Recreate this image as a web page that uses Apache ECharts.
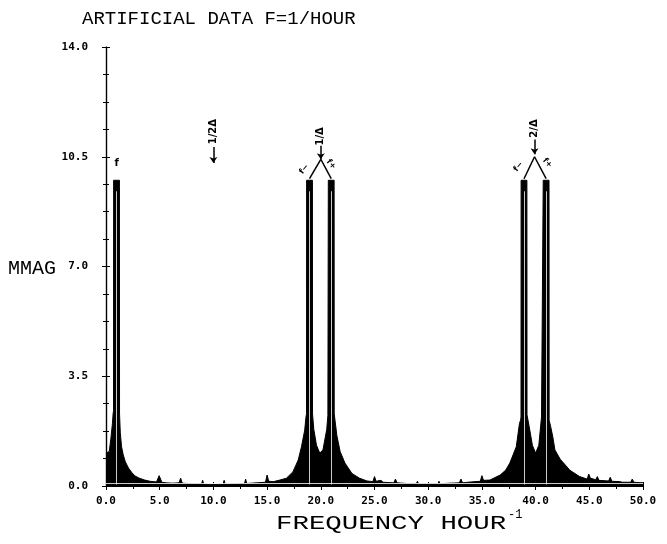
<!DOCTYPE html>
<html>
<head>
<meta charset="utf-8">
<script src="https://cdn.jsdelivr.net/npm/echarts@6/dist/echarts.min.js"></script>
<style>
  html, body { margin: 0; padding: 0; background: #fff; }
  #chart { width: 667px; height: 544px; }
</style>
</head>
<body>
<div id="chart"></div>
<script>
// periodogram: frequency (1/hour) and amplitude (mmag)
const freq = [
  0.0, 0.3, 0.45, 0.6, 0.66, 0.7, 0.71, 1.25, 1.26, 1.33, 1.45, 1.6, 1.8, 2.1, 2.4, 2.7, 3.1, 3.6, 4.1, 4.7, 4.85, 4.95, 5.1, 5.2,
  5.6, 6.2, 6.8, 6.95, 7.1, 8.0, 8.9, 9.0, 9.1, 10.0, 10.9, 11.0, 11.1, 12.0, 12.9, 13.0, 13.1, 14.0, 14.85, 15.0, 15.15,
  15.6, 16.2, 16.8, 17.4, 17.9, 18.2, 18.5, 18.62, 18.67, 18.68, 19.22, 19.23, 19.35, 19.6, 19.9, 20.2, 20.55, 20.66, 20.69, 20.7, 21.24, 21.25,
  21.5, 21.8, 22.25, 22.9, 23.6, 24.3, 24.85, 25.0, 25.15, 25.6, 25.8, 26.8, 26.95, 27.1, 28.0, 28.9, 29.0, 29.1, 30.0,
  30.9, 31.0, 31.1, 32.0, 32.9, 33.05, 33.2, 34.0, 34.85, 35.0, 35.15, 35.75, 36.7, 37.2, 37.6, 38.2, 38.5, 38.6, 38.64, 38.65,
  39.19, 39.2, 39.4, 39.7, 40.0, 40.3, 40.55, 40.65, 40.7, 40.71, 41.25, 41.26, 41.4, 41.6, 41.8, 42.3, 43.2, 44.1, 44.8,
  44.95, 45.1, 45.6, 45.75, 45.9, 46.8, 46.95, 47.1, 47.8, 47.95, 48.1, 48.85, 49.0, 49.15, 50.0
];
const mmag = [
  1.05, 1.1, 1.5, 2.0, 2.3, 2.4, 9.75, 9.75, 2.3, 1.7, 1.25, 1.0, 0.77, 0.57, 0.43, 0.32, 0.25, 0.19, 0.15, 0.13, 0.15, 0.33, 0.3, 0.12,
  0.1, 0.09, 0.1, 0.25, 0.09, 0.07, 0.07, 0.18, 0.06, 0.05, 0.06, 0.18, 0.06, 0.07, 0.08, 0.22, 0.08, 0.1, 0.12, 0.35, 0.15,
  0.14, 0.19, 0.25, 0.45, 0.83, 1.25, 1.78, 2.2, 2.3, 9.75, 9.75, 2.3, 1.8, 1.3, 1.05, 1.15, 1.8, 2.25, 2.3, 9.75, 9.75, 2.3,
  1.6, 1.1, 0.73, 0.4, 0.25, 0.16, 0.14, 0.3, 0.15, 0.18, 0.12, 0.1, 0.22, 0.1, 0.08, 0.08, 0.15, 0.07, 0.07,
  0.07, 0.15, 0.07, 0.09, 0.1, 0.22, 0.1, 0.13, 0.15, 0.33, 0.18, 0.19, 0.35, 0.5, 0.73, 1.25, 2.0, 2.1, 2.2, 9.75,
  9.75, 2.27, 1.9, 1.3, 1.05, 1.3, 2.2, 2.2, 2.25, 9.75, 9.75, 2.1, 1.9, 1.57, 1.15, 0.85, 0.5, 0.3, 0.22,
  0.38, 0.25, 0.2, 0.3, 0.18, 0.16, 0.28, 0.15, 0.14, 0.2, 0.12, 0.12, 0.22, 0.12, 0.1
];

// exact peak frequencies (white centre lines)
const peakFreq = [0.98, 18.95, 20.97, 38.92, 40.98];
const peakTop = 9.4;

// annotations: alias markers
const aliasText = ['1/2Δ', '1/Δ', '2/Δ'];
const aliasX = [10.0, 20.0, 39.9];
const aliasTextY = [11.3, 11.15, 11.4];
const arrowFrom = [10.81, 10.85, 11.05];
const arrowTo = [10.3, 10.42, 10.58];
// Λ legs: apex and the two peaks they point to
const apex = [[20.0, 10.42], [39.9, 10.5]];
const legEnds = [[18.95, 20.97], [38.92, 40.98]];
const legY = 9.8;
// side labels f- / f+
const sideText = ['f−', 'f+', 'f−', 'f+'];
const sideX = [18.45, 20.95, 38.4, 41.1];
const sideY = [10.1, 10.26, 10.18, 10.3];
const sideRot = [50, -50, 50, -50];

const xTicks = { min: 0, max: 50, step: 5 };
const yTicks = { min: 0, max: 14, step: 3.5 };

const chart = echarts.init(document.getElementById('chart'));

const labelFont = { color: '#000', fontFamily: 'DejaVu Sans Mono', fontWeight: 'bold', fontSize: 11 };

function axisBase(extra) {
  return Object.assign({
    type: 'value',
    splitLine: { show: false },
    axisLine: { show: true, lineStyle: { color: '#000', width: 1.2 } },
    axisTick: { show: true, inside: true, length: 4, lineStyle: { color: '#000' } },
  }, extra);
}

const white = [];
peakFreq.forEach(function (p) {
  white.push([{ coord: [p, 0.05] }, { coord: [p, peakTop] }]);
});
white.push([{ coord: [0, 0.1] }, { coord: [50, 0.1] }]);

const legs = [];
apex.forEach(function (a, i) {
  legs.push([{ coord: [legEnds[i][0], legY] }, { coord: a }]);
  legs.push([{ coord: a }, { coord: [legEnds[i][1], legY] }]);
});

const arrows = aliasX.map(function (x, i) {
  return [{ coord: [x, arrowFrom[i]] }, { coord: [x, arrowTo[i]] }];
});

const option = {
  animation: false,
  backgroundColor: '#fff',
  grid: { left: 106, right: 24, top: 47, bottom: 58 },
  xAxis: [
    axisBase({
      min: xTicks.min, max: xTicks.max, interval: xTicks.step,
      minorTick: { show: true, splitNumber: 2, length: 3, lineStyle: { color: '#000' } },
      axisLabel: Object.assign({ margin: 10, formatter: function (v) { return v.toFixed(1); } }, labelFont)
    }),
    axisBase({
      position: 'top', min: xTicks.min, max: xTicks.max, interval: xTicks.step,
      minorTick: { show: true, splitNumber: 2, length: 3, lineStyle: { color: '#000' } },
      axisLabel: { show: false }
    })
  ],
  yAxis: [
    axisBase({
      min: yTicks.min, max: yTicks.max, interval: yTicks.step,
      minorTick: { show: true, splitNumber: 4, length: 3, lineStyle: { color: '#000' } },
      axisLabel: Object.assign({ margin: 18, formatter: function (v) { return v.toFixed(1); } }, labelFont)
    }),
    axisBase({
      position: 'right', min: yTicks.min, max: yTicks.max, interval: yTicks.step,
      minorTick: { show: true, splitNumber: 4, length: 3, lineStyle: { color: '#000' } },
      axisLabel: { show: false }
    })
  ],
  series: [
    {
      type: 'line',
      data: freq.map(function (f, i) { return [f, mmag[i]]; }),
      symbol: 'none',
      lineStyle: { color: '#000', width: 1 },
      areaStyle: { color: '#000', opacity: 1 },
      markLine: {
        silent: true, symbol: 'none', label: { show: false },
        lineStyle: { color: '#fff', width: 0.8, type: 'solid' },
        data: white
      }
    },
    {
      type: 'line', data: [], symbol: 'none',
      markLine: {
        silent: true, symbol: 'none', label: { show: false },
        lineStyle: { color: '#000', width: 1.5, type: 'solid' },
        data: legs
      }
    },
    {
      type: 'line', data: [], symbol: 'none',
      markLine: {
        silent: true, symbol: ['none', 'arrow'], symbolSize: 6, label: { show: false },
        lineStyle: { color: '#000', width: 1.5, type: 'solid' },
        data: arrows
      }
    }
  ]
};
chart.setOption(option);

// text annotations placed at data coordinates
function px(pt) { return chart.convertToPixel({ xAxisIndex: 0, yAxisIndex: 0 }, pt); }
const graphic = [
  { type: 'text', x: 82, y: 9, style: { text: 'ARTIFICIAL DATA F=1/HOUR', fontFamily: 'Liberation Mono', fontSize: 19, fill: '#000' } },
  { type: 'text', x: 8, y: 259, style: { text: 'MMAG', fontFamily: 'Liberation Mono', fontSize: 20, fill: '#000' } },
  { type: 'text', x: 276, y: 514, scaleX: 1.37, style: { text: 'FREQUENCY HOUR', fontFamily: 'Liberation Mono', fontSize: 20, fill: '#000' } },
  { type: 'text', x: 508, y: 509, style: { text: '-1', fontFamily: 'Liberation Mono', fontSize: 12, fill: '#000' } }
];
aliasText.forEach(function (t, i) {
  const p = px([aliasX[i], aliasTextY[i]]);
  graphic.push({ type: 'text', x: p[0], y: p[1], rotation: Math.PI / 2,
    style: { text: t, fontFamily: 'DejaVu Sans', fontWeight: 'bold', fontSize: 10, fill: '#000', align: 'center', verticalAlign: 'middle' } });
});
sideText.forEach(function (t, i) {
  const p = px([sideX[i], sideY[i]]);
  graphic.push({ type: 'text', x: p[0], y: p[1], rotation: sideRot[i] * Math.PI / 180,
    style: { text: t, fontFamily: 'DejaVu Sans', fontWeight: 'bold', fontSize: 8, fill: '#000', align: 'center', verticalAlign: 'middle' } });
});
const fp = px([1.0, 10.3]);
graphic.push({ type: 'text', x: fp[0], y: fp[1],
  style: { text: 'f', fontFamily: 'DejaVu Sans', fontWeight: 'bold', fontSize: 10, fill: '#000', align: 'center', verticalAlign: 'middle' } });
chart.setOption({ graphic: graphic });
</script>
</body>
</html>
